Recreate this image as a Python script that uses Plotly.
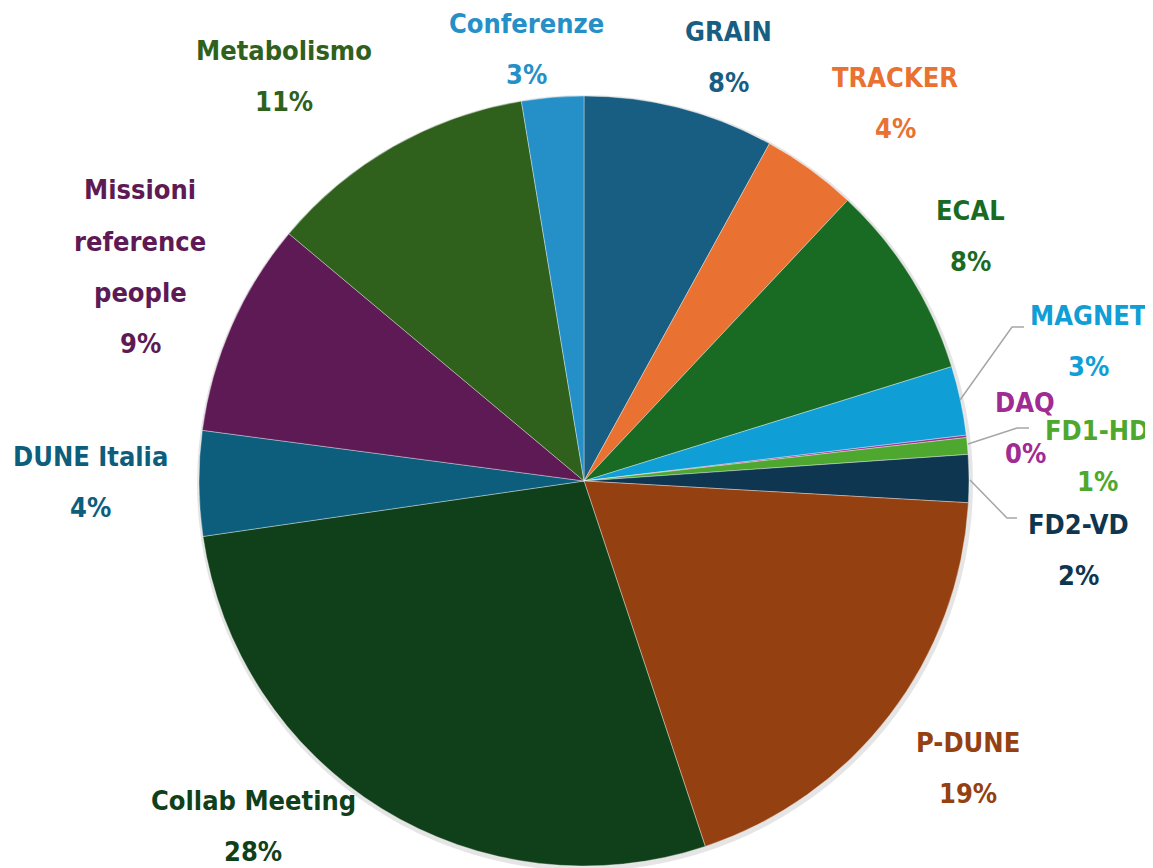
import plotly.graph_objects as go

# ---- data ----
categories = ["GRAIN", "TRACKER", "ECAL", "MAGNET", "DAQ", "FD1-HD", "FD2-VD",
              "P-DUNE", "Collab Meeting", "DUNE Italia", "Missioni<br>reference<br>people",
              "Metabolismo", "Conferenze"]
values = [8.0, 4.0, 8.2, 2.9, 0.1, 0.7, 2.0, 19.0, 27.8, 4.4, 9.0, 11.3, 2.6]
colors = ["#175E82", "#E97132", "#196B24", "#0F9ED5", "#A02B93", "#4EA72E", "#0E3650",
          "#954010", "#10401A", "#0C5E7C", "#5E1A54", "#2F611D", "#2590C8"]

# page body has an 8px margin: work in window pixels and subtract it
OFF = 8
W, H = 1153 - OFF, 868 - OFF
CX, CY, R = 584 - OFF, 481 - OFF, 385

# label anchor positions (window pixels, centre of first text line) - layout only
label_pos = [(728, 31), (895, 77), (970, 210), (1088, 315), (1025, 402), (1097, 430),
             (1078, 524), (968, 742), (253, 800), (90, 456), (140, 190), (284, 50), (526, 24)]
LINE = 51

FONT = "DejaVu Sans Condensed, DejaVu Sans, sans-serif"


def px(x):
    return (x - OFF) / W


def py(y):
    return 1 - (y - OFF) / H


fig = go.Figure(go.Pie(
    labels=[c.replace("<br>", " ") for c in categories],
    values=values,
    sort=False,
    direction="clockwise",
    rotation=0,
    textinfo="none",
    hoverinfo="label+percent",
    marker=dict(colors=colors, line=dict(color="rgba(255,255,255,0.6)", width=0.6)),
    domain=dict(x=[(CX - R) / W, (CX + R) / W], y=[(H - CY - R) / H, (H - CY + R) / H]),
    showlegend=False,
))

total = sum(values)
annotations = []
for cat, val, col, (lx, ly) in zip(categories, values, colors, label_pos):
    lines = cat.split("<br>") + [f"{round(val / total * 100)}%"]
    for i, t in enumerate(lines):
        annotations.append(dict(
            text=f"<b>{t}</b>", x=px(lx), y=py(ly + i * LINE),
            xref="paper", yref="paper", xanchor="center", yanchor="middle",
            showarrow=False, font=dict(family=FONT, size=27, color=col)))

# leader lines (window pixel paths) for the small slices
leaders = [[(960, 400), (1012, 327), (1024, 327)],
           [(968, 444), (1017, 428), (1029, 428)],
           [(970, 480), (1007, 518), (1017, 518)]]
shapes = [dict(type="circle", xref="paper", yref="paper", layer="below",
               x0=px(584 - R - 2), x1=px(584 + R + 4), y0=py(481 + R + 5), y1=py(481 - R - 1),
               line=dict(width=0), fillcolor="rgba(0,0,0,0.10)")]
for pts in leaders:
    path = "M " + " L ".join(f"{px(x)},{py(y)}" for x, y in pts)
    shapes.append(dict(type="path", path=path, xref="paper", yref="paper",
                       line=dict(color="#A6A6A6", width=1.5)))

fig.update_layout(width=W, height=H, margin=dict(l=0, r=0, t=0, b=0),
                  paper_bgcolor="white", plot_bgcolor="white",
                  annotations=annotations, shapes=shapes)

fig.write_html("out.html")
